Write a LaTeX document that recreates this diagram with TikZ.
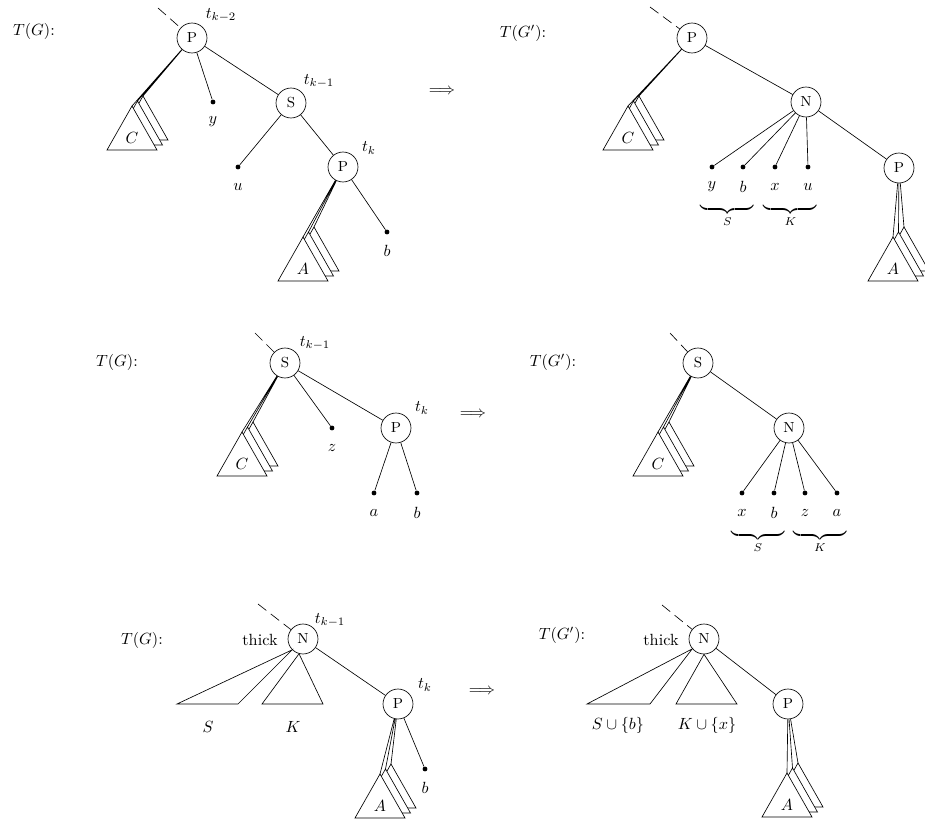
\documentclass[tikz,border=0pt]{standalone}
\usetikzlibrary{calc}
\newcommand\pile[5]{% #1 parent node, #2 prefix, #3 apex x, #4 apex y, #5 label
  \coordinate (#2-0) at (#3,#4);
  \coordinate (#2-1) at (#3+5.5,#4-5);
  \coordinate (#2-2) at (#3+11,#4-10);
  \draw (#1) -- (#2-2) (#1) -- (#2-1) (#1) -- (#2-0);
  \foreach \k in {2,1,0}{\draw[fill=white] (#2-\k) -- ++(-25,44) -- ++(50,0) -- cycle;}
  \node[lbl] (#2-lab) at (#3,#4+32) {$#5$};
}
\begin{document}
\begin{tikzpicture}[x=0.617pt,y=-0.617pt,
  nd/.style={circle,draw,minimum size=18.5pt,inner sep=0pt,font=\small},
  leaf/.style={circle,fill,inner sep=0pt,minimum size=3pt},
  lbl/.style={inner sep=0pt},
  dsh/.style={dash pattern=on 6.5pt off 3.5pt},
  brc/.style={anchor=north,inner sep=0pt}]
\useasboundingbox (0,0) rectangle (925,822);

% ---------------- top left ----------------
\node[lbl] (tg1) at (34,31) {$T(G)$:};
\node[nd] (p1) at (192,38) {P};
\coordinate (d1) at (158,8);
\draw[dsh] (d1) -- (p1);
\node[lbl] (t1) at (221,15) {$t_{k-2}$};
\node[leaf] (l1y) at (213,102) {};
\node[lbl] (l1yl) at (213,122) {$y$};
\node[nd] (s1) at (291,103) {S};
\node[lbl] (t2) at (319,81) {$t_{k-1}$};
\node[leaf] (l1u) at (238,167) {};
\node[lbl] (l1ul) at (238,187) {$u$};
\node[nd] (p2) at (343,167) {P};
\node[lbl] (t3) at (369,148) {$t_k$};
\node[leaf] (l1b) at (387,232) {};
\node[lbl] (l1bl) at (387,251) {$b$};
\draw (p1) -- (l1y) (p1) -- (s1) (s1) -- (l1u) (s1) -- (p2) (p2) -- (l1b);
\pile{p1}{c1}{132}{106}{C}
\pile{p2}{a1}{303}{237}{A}
\node[lbl] (ar1) at (442,92) {$\Longrightarrow$};

% ---------------- top right ----------------
\node[lbl] (tg2) at (523,33) {$T(G')$:};
\node[nd] (p3) at (692,38) {P};
\coordinate (d2) at (650,7);
\draw[dsh] (d2) -- (p3);
\node[nd] (n1) at (806,102) {N};
\node[leaf] (m1) at (712,167) {};
\node[leaf] (m2) at (743,167) {};
\node[leaf] (m3) at (775,167) {};
\node[leaf] (m4) at (808,167) {};
\node[lbl] (m1l) at (712,187) {$y$};
\node[lbl] (m2l) at (743,187) {$b$};
\node[lbl] (m3l) at (775,187) {$x$};
\node[lbl] (m4l) at (808,187) {$u$};
\node[brc] (br1) at (727.5,203) {$\underbrace{\hspace{33pt}}_{S}$};
\node[brc] (br2) at (790.5,203) {$\underbrace{\hspace{33pt}}_{K}$};
\node[nd] (p4) at (899,168) {P};
\draw (p3) -- (n1) (n1) -- (m1) (n1) -- (m2) (n1) -- (m3) (n1) -- (m4) (n1) -- (p4);
\pile{p3}{c2}{628}{106}{C}
\pile{p4}{a2}{893}{237}{A}

% ---------------- middle left ----------------
\node[lbl] (tg3) at (117,362) {$T(G)$:};
\node[nd] (s2) at (285,363) {S};
\coordinate (d3) at (255,333);
\draw[dsh] (d3) -- (s2);
\node[lbl] (t4) at (315,343) {$t_{k-1}$};
\node[leaf] (l3z) at (332,428) {};
\node[lbl] (l3zl) at (332,448) {$z$};
\node[nd] (p5) at (396,428) {P};
\node[lbl] (t5) at (422,408) {$t_k$};
\node[leaf] (l3a) at (374,493) {};
\node[leaf] (l3b) at (417,493) {};
\node[lbl] (l3al) at (374,513) {$a$};
\node[lbl] (l3bl) at (417,513) {$b$};
\draw (s2) -- (l3z) (s2) -- (p5) (p5) -- (l3a) (p5) -- (l3b);
\pile{s2}{c3}{242}{432}{C}
\node[lbl] (ar2) at (473,415) {$\Longrightarrow$};

% ---------------- middle right ----------------
\node[lbl] (tg4) at (553,362) {$T(G')$:};
\node[nd] (s3) at (698,363) {S};
\coordinate (d4) at (670,333);
\draw[dsh] (d4) -- (s3);
\node[nd] (n2) at (789,428) {N};
\node[leaf] (q1) at (742,493) {};
\node[leaf] (q2) at (774,493) {};
\node[leaf] (q3) at (805,493) {};
\node[leaf] (q4) at (837,493) {};
\node[lbl] (q1l) at (742,513) {$x$};
\node[lbl] (q2l) at (774,513) {$b$};
\node[lbl] (q3l) at (805,513) {$z$};
\node[lbl] (q4l) at (837,513) {$a$};
\node[brc] (br3) at (758,529) {$\underbrace{\hspace{33pt}}_{S}$};
\node[brc] (br4) at (820,529) {$\underbrace{\hspace{33pt}}_{K}$};
\draw (s3) -- (n2) (n2) -- (q1) (n2) -- (q2) (n2) -- (q3) (n2) -- (q4);
\pile{s3}{c4}{658}{432}{C}

% ---------------- bottom left ----------------
\node[lbl] (tg5) at (142,640) {$T(G)$:};
\node[nd] (n3) at (303,639) {N};
\node[lbl] (th1) at (260,640) {thick};
\coordinate (d5) at (258,604);
\draw[dsh] (d5) -- (n3);
\node[lbl] (t6) at (330,620) {$t_{k-1}$};
\coordinate (sl1) at (177,704);
\coordinate (sr1) at (238,704);
\coordinate (kl1) at (262,704);
\coordinate (kr1) at (323,704);
\draw (n3.225) -- (sl1) -- (sr1) -- cycle;
\draw (n3.255) -- (kl1) -- (kr1) -- cycle;
\node[lbl] (sl1l) at (208,727) {$S$};
\node[lbl] (kl1l) at (293,727) {$K$};
\node[nd] (p6) at (398,704) {P};
\node[lbl] (t7) at (425,685) {$t_k$};
\node[leaf] (l5b) at (425,769) {};
\node[lbl] (l5bl) at (425,788) {$b$};
\draw (n3) -- (p6) (p6) -- (l5b);
\pile{p6}{a3}{380}{774}{A}
\node[lbl] (ar3) at (482,692) {$\Longrightarrow$};

% ---------------- bottom right ----------------
\node[lbl] (tg6) at (562,635) {$T(G')$:};
\node[nd] (n4) at (704,639) {N};
\node[lbl] (th2) at (661,640) {thick};
\coordinate (d6) at (662,605);
\draw[dsh] (d6) -- (n4);
\coordinate (sl2) at (587,704);
\coordinate (sr2) at (650,704);
\coordinate (kl2) at (676,704);
\coordinate (kr2) at (737,704);
\draw (n4.220) -- (sl2) -- (sr2) -- cycle;
\draw (n4.south) -- (kl2) -- (kr2) -- cycle;
\node[lbl] (sl2l) at (618,725) {$S\cup\{b\}$};
\node[lbl] (kl2l) at (707,725) {$K\cup\{x\}$};
\node[nd] (p7) at (788,704) {P};
\draw (n4) -- (p7);
\pile{p7}{a4}{787}{773}{A}
\end{tikzpicture}
\end{document}
